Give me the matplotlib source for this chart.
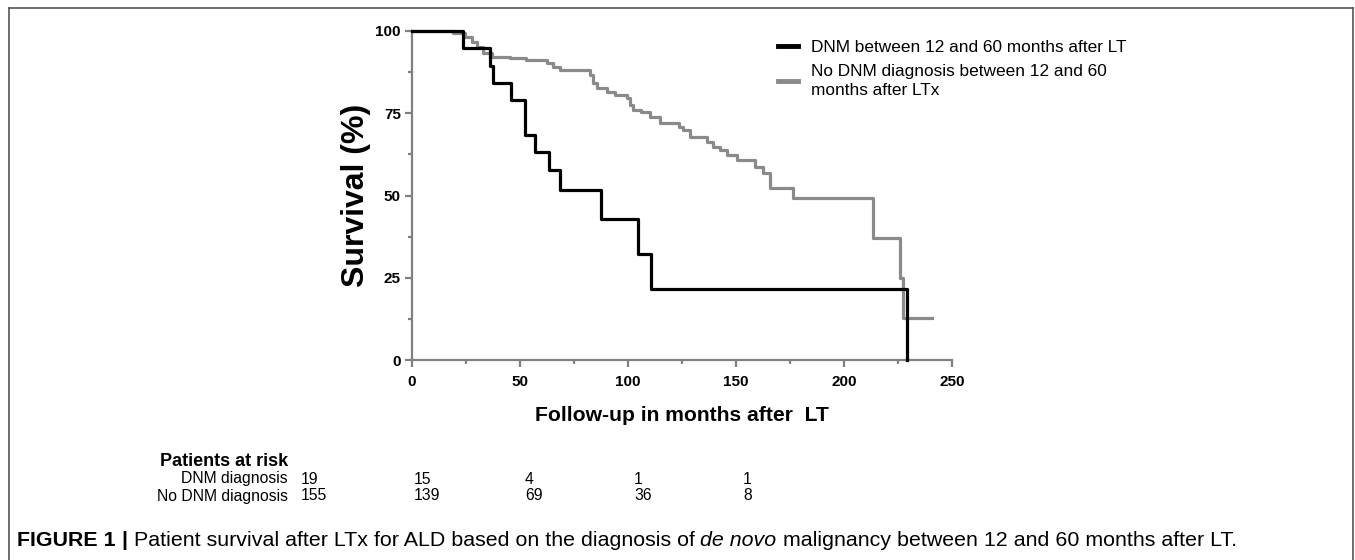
import matplotlib
matplotlib.use("Agg")
import matplotlib.pyplot as plt
from matplotlib.lines import Line2D

plt.rcParams['font.family'] = ['Liberation Sans', 'DejaVu Sans']

# ---- data ----
dnm_times = [0, 23.6, 36, 37.5, 46, 52.3, 57, 63.6, 68.5, 87.5, 104.5, 110.6, 229]
dnm_surv = [100, 94.7, 89.5, 84.2, 78.9, 68.4, 63.2, 57.9, 51.6, 43.0, 32.3, 21.5, 0]
dnm_end = 229

nodnm_times = [0, 19, 24.5, 27.6, 30, 33, 36.9, 45.4, 53, 62.3, 65.3, 68.5, 82.4, 84,
               85.5, 90.1, 94, 99.4, 101, 102.5, 106, 110.2, 114.8, 123.5, 125.6,
               128.7, 136.4, 139.5, 142.6, 145.7, 150.3, 159, 162.5, 165.7, 176.5,
               213.6, 226, 227.3]
nodnm_surv = [100, 99.3, 98.3, 96.7, 95.2, 93.2, 92.2, 91.7, 91.2, 90.2, 89.2, 88.1, 86.5,
              84.1, 82.6, 81.6, 80.5, 79.5, 77.5, 76.0, 75.5, 74.0, 71.9, 70.9, 69.9,
              67.9, 66.3, 64.8, 63.8, 62.3, 60.8, 58.8, 56.8, 52.2, 49.1, 37.0, 24.9, 12.8]
nodnm_end = 240.6

risk_groups = ["DNM diagnosis", "No DNM diagnosis"]
risk_dnm = ["19", "15", "4", "1", "1"]
risk_nodnm = ["155", "139", "69", "36", "8"]

x_ticks = [0, 50, 100, 150, 200, 250]
y_ticks = [0, 25, 50, 75, 100]

label_dnm = "DNM between 12 and 60 months after LT"
label_nodnm = "No DNM diagnosis between 12 and 60\nmonths after LTx"

W, H = 1355, 560
fig = plt.figure(figsize=(W / 100, H / 100), dpi=100)

def fx(px):
    return px / W

def fy(py):
    return 1 - py / H

ax = fig.add_axes([fx(412), fy(360), fx(952) - fx(412), fy(31) - fy(360)])
ax.set_xlim(0, 250)
ax.set_ylim(0, 100)

gray = "#8a8a8a"
ax.step(nodnm_times + [nodnm_end], nodnm_surv + [nodnm_surv[-1]], where='post',
        color=gray, lw=2.3, clip_on=False, label=label_nodnm, zorder=2)
ax.step(dnm_times + [dnm_end], dnm_surv + [dnm_surv[-1]], where='post',
        color="black", lw=2.3, clip_on=False, label=label_dnm, zorder=3)

for s in ['top', 'right']:
    ax.spines[s].set_visible(False)
for s in ['left', 'bottom']:
    ax.spines[s].set_color("#808080")
    ax.spines[s].set_linewidth(1.6)

ax.set_xticks(x_ticks)
ax.set_yticks(y_ticks)
ax.set_xticks([25, 75, 125, 175, 225], minor=True)
ax.set_yticks([12.5, 37.5, 62.5, 87.5], minor=True)
ax.tick_params(axis='both', which='major', length=5, width=1.6, color="#808080",
               labelsize=11, pad=3)
ax.tick_params(axis='x', which='major', pad=6)
ax.tick_params(axis='both', which='minor', length=3, width=1.6, color="#808080")
for lab in ax.get_xticklabels() + ax.get_yticklabels():
    lab.set_fontweight('bold')

ax.set_xlabel("Follow-up in months after  LT", fontsize=15.2, fontweight='bold', labelpad=12)
ax.set_ylabel("Survival (%)", fontsize=23, fontweight='bold', labelpad=3)

# legend
h1 = Line2D([], [], color="black", lw=3.5)
h2 = Line2D([], [], color=gray, lw=3.5)
leg = fig.legend([h1, h2], [label_dnm, label_nodnm], loc='upper left',
                 bbox_to_anchor=(fx(762), fy(24)), frameon=False, fontsize=12.4,
                 handlelength=1.2, handletextpad=0.75, labelspacing=0.55)
for t in leg.get_texts():
    t.set_linespacing(1.35)

# risk table
fs_tab = 11.3
fig.text(fx(288), fy(462), "Patients at risk", ha='right', va='center',
         fontsize=13, fontweight='bold')
row_y = [479, 496]
col_x = [301, 414, 525, 634, 743]
for name, vals, yy in zip(risk_groups, [risk_dnm, risk_nodnm], row_y):
    fig.text(fx(288), fy(yy), name, ha='right', va='center', fontsize=fs_tab)
    for v, xx in zip(vals, col_x):
        fig.text(fx(xx), fy(yy), v, ha='left', va='center', fontsize=fs_tab)

# caption
renderer = fig.canvas.get_renderer()
pieces = [("FIGURE 1", dict(fontweight='bold')),
          (" | ", dict(fontweight='bold')),
          ("Patient survival after LTx for ALD based on the diagnosis of ", {}),
          ("de novo", dict(style='italic')),
          (" malignancy between 12 and 60 months after LT.", {})]
x = 17
for txt, kw in pieces:
    t = fig.text(fx(x), fy(541), txt, ha='left', va='center', fontsize=15.4, **kw)
    bb = t.get_window_extent(renderer=renderer)
    x += bb.width

# frame
fc = "#555555"
fig.add_artist(Line2D([fx(9), fx(1353)], [fy(8), fy(8)], color=fc, lw=1.2))
fig.add_artist(Line2D([fx(9), fx(9)], [fy(8), 0], color=fc, lw=1.2))
fig.add_artist(Line2D([fx(1353), fx(1353)], [fy(8), 0], color=fc, lw=1.2))

fig.savefig("out.png", dpi=100)
